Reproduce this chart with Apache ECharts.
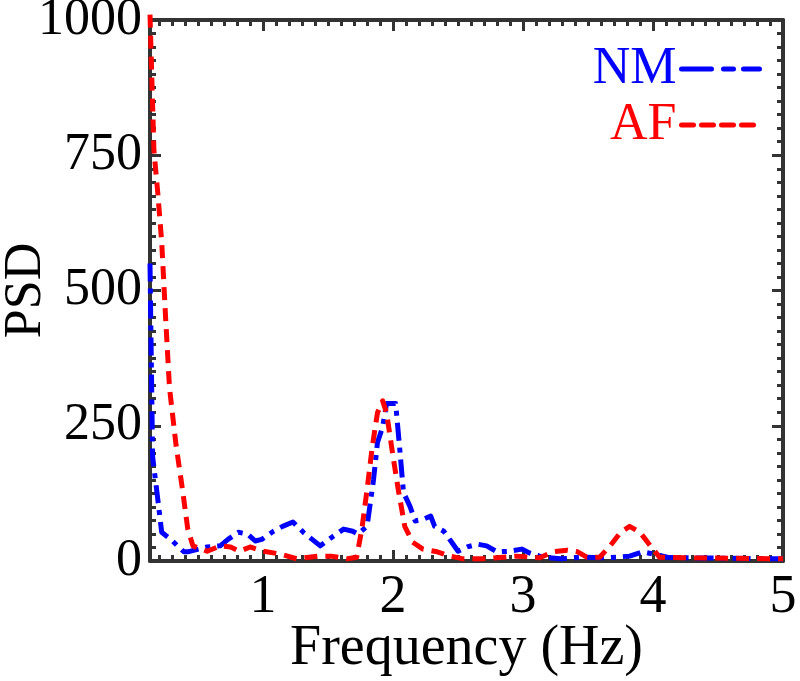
<!DOCTYPE html>
<html>
<head>
<meta charset="utf-8">
<script src="https://cdn.jsdelivr.net/npm/echarts@6/dist/echarts.min.js"></script>
<style>html,body{margin:0;padding:0;background:#fff}#c{width:800px;height:681px}</style>
</head>
<body>
<div id="c"></div>
<script>
// Data
var freqNM = [0.13,0.15,0.19,0.22,0.29,0.39,0.42,0.57,0.67,0.73,0.81,0.88,0.94,0.99,1.08,1.15,1.23,1.31,1.44,1.53,1.62,1.69,1.73,1.8,1.85,1.88,1.92,1.95,2.02,2.05,2.08,2.13,2.17,2.23,2.29,2.32,2.39,2.45,2.5,2.57,2.65,2.72,2.8,2.9,2.99,3.05,3.15,3.29,3.46,3.65,3.82,3.92,4.0,4.11,4.23,5.0];
var psdNM  = [550,193,114,53,40,17,17,26,28,40,53,50,37,40,55,64,72,53,28,44,59,55,50,64,151,219,248,291,291,211,127,101,74,77,83,64,55,35,18,26,31,28,17,18,22,15,7,4,7,6,9,17,13,7,6,4];
var freqAF = [0.13,0.16,0.19,0.22,0.25,0.28,0.33,0.38,0.42,0.46,0.57,0.67,0.75,0.82,0.9,1.0,1.13,1.26,1.42,1.52,1.65,1.72,1.76,1.8,1.84,1.88,1.92,1.95,2.0,2.04,2.09,2.15,2.23,2.34,2.44,2.54,2.69,2.95,3.13,3.23,3.34,3.42,3.49,3.59,3.67,3.75,3.82,3.9,3.98,4.05,4.23,5.0];
var psdAF  = [1010,760,680,590,450,320,215,132,60,28,18,28,26,18,26,18,13,4,9,9,4,7,59,132,211,274,296,274,193,132,64,35,22,17,9,4,4,9,6,17,20,17,7,7,28,53,64,53,28,7,6,4];
var seriesNames = ['NM','AF'];
var xTickLabels = [1,2,3,4,5];
var yTickLabels = [0,250,500,750,1000];

var xMin = 0.13, xMax = 5;
var minorX = [];
for (var i = 2; i <= 49; i++) { if (i % 10 !== 0) minorX.push(i / 10); }

function pairs(xs, ys){ return xs.map(function(x,k){ return [x, ys[k]]; }); }

var FONT = 'Liberation Serif';
var AX = '#333333';
var chart = echarts.init(document.getElementById('c'));

function xAx(pos, vals, len, showLine, showLabel, extra){
  var o = {
    type:'value', position:pos, min:xMin, max:xMax,
    axisLine:{show:showLine, onZero:false, lineStyle:{color:AX, width:4}},
    axisTick:{show:true, inside:true, length:len, customValues:vals, lineStyle:{color:AX, width:3}},
    axisLabel:{show:showLabel, customValues:vals, fontFamily:FONT, fontSize:54, color:'#000', margin:10,
               formatter:function(v){ return String(v); }},
    splitLine:{show:false}
  };
  if (extra) for (var k in extra) o[k] = extra[k];
  return o;
}
function yAx(pos, showLabel, extra){
  var o = {
    type:'value', position:pos, min:0, max:1000, interval:250,
    axisLine:{show:true, onZero:false, lineStyle:{color:AX, width:4}},
    axisTick:{show:true, inside:true, length:11, lineStyle:{color:AX, width:3}},
    minorTick:{show:true, splitNumber:10, length:6, lineStyle:{color:AX, width:3}},
    axisLabel:{show:showLabel, customValues:yTickLabels, fontFamily:FONT, fontSize:52, color:'#000', margin:8,
               formatter:function(v){ return String(v); }},
    splitLine:{show:false}
  };
  if (extra) for (var k in extra) o[k] = extra[k];
  return o;
}

var option = {
  backgroundColor:'#fff',
  animation:false,
  grid:{left:150, right:17, top:20, bottom:120, containLabel:false, outerBoundsMode:'none'},
  legend:{
    orient:'vertical', right:33, top:38, align:'right',
    itemWidth:78, itemHeight:14, itemGap:4,
    textStyle:{fontFamily:FONT, fontSize:52, lineHeight:52},
    data:[
      {name:seriesNames[0], textStyle:{color:'#0000ff'}, itemStyle:{opacity:0}, lineStyle:{type:[30,12,10,10], width:5, cap:'round'}},
      {name:seriesNames[1], textStyle:{color:'#ff0000'}, itemStyle:{opacity:0}, lineStyle:{type:[12,8], width:5, cap:'round'}}
    ]
  },
  xAxis:[
    xAx('bottom', xTickLabels, 11, true, true, {name:'Frequency (Hz)', nameLocation:'middle', nameGap:60, nameMoveOverlap:false, nameTextStyle:{fontFamily:FONT, fontSize:56, color:'#000'}}),
    xAx('bottom', minorX, 6, false, false),
    xAx('top', xTickLabels, 11, true, false),
    xAx('top', minorX, 6, false, false)
  ],
  yAxis:[
    yAx('left', true, {name:'PSD', nameLocation:'middle', nameGap:98, nameRotate:90, nameMoveOverlap:false, nameTextStyle:{fontFamily:FONT, fontSize:52, color:'#000'}}),
    yAx('right', false)
  ],
  series:[
    {name:seriesNames[0], type:'line', data:pairs(freqNM, psdNM), symbol:'none', clip:false,
     lineStyle:{color:'#0000ff', width:5, type:[18,7,5,7], cap:'butt', join:'round'}, itemStyle:{color:'#0000ff'}, z:3},
    {name:seriesNames[1], type:'line', data:pairs(freqAF, psdAF), symbol:'none', clip:false,
     lineStyle:{color:'#ff0000', width:5, type:[13,8], cap:'butt', join:'round'}, itemStyle:{color:'#ff0000'}, z:4}
  ]
};
chart.setOption(option);
</script>
</body>
</html>
